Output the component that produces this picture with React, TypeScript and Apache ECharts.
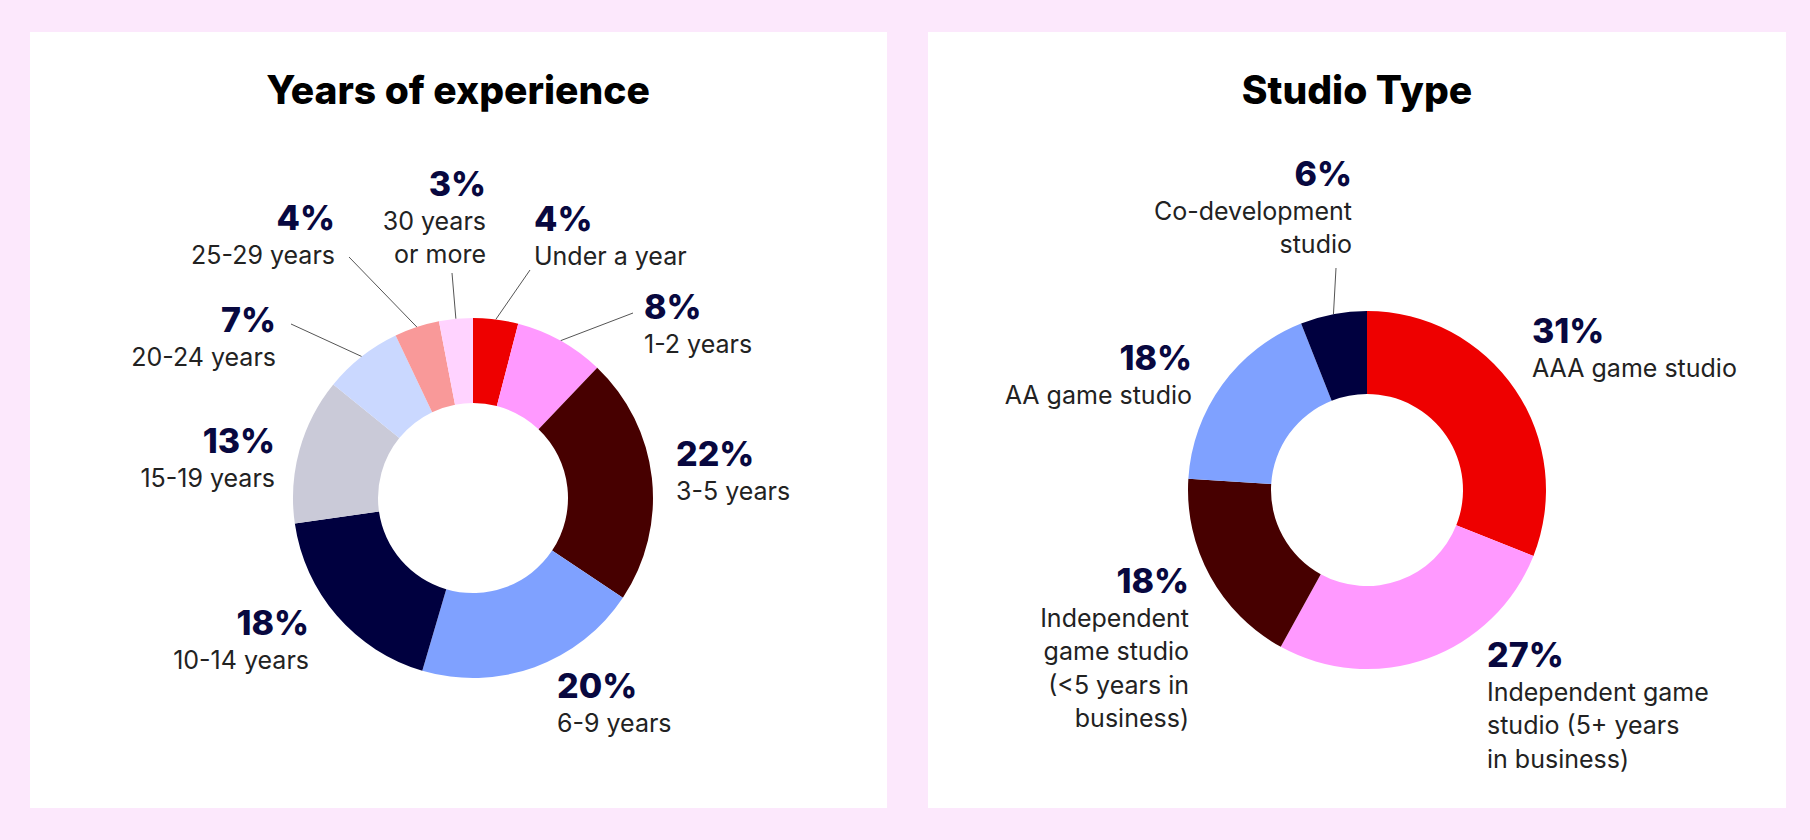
import React, { useEffect, useRef } from 'react';
import * as echarts from 'echarts';

// ---- data ----
const titles = ['Years of experience', 'Studio Type'];

const expCategories = [
  'Under a year',
  '1-2 years',
  '3-5 years',
  '6-9 years',
  '10-14 years',
  '15-19 years',
  '20-24 years',
  '25-29 years',
  '30 years\nor more',
];
const expValues = [4, 8, 22, 20, 18, 13, 7, 4, 3];

const studioCategories = [
  'AAA game studio',
  'Independent game\nstudio (5+ years\nin business)',
  'Independent\ngame studio\n(<5 years in\nbusiness)',
  'AA game studio',
  'Co-development\nstudio',
];
const studioValues = [31, 27, 18, 18, 6];

// ---- styles / layout ----
const expColors = ['#EE0000', '#FF99FF', '#470000', '#7FA1FF', '#00003F', '#CACAD8', '#CAD8FF', '#F99999', '#FFD3FF'];
const studioColors = ['#EE0000', '#FF99FF', '#470000', '#7FA1FF', '#00003F'];

const FONT = "Inter, 'Noto Sans', sans-serif";
const PIE_LEFT = { center: [473, 498], inner: 95, outer: 180 };
const PIE_RIGHT = { center: [1367, 490], inner: 96, outer: 179 };

// label placement relative to pie center: [dx, dyTop, align, lineEndDx, lineEndDy]
type Place = [number, number, string, number | null, number | null];
const expPlaces: Place[] = [
  [61, -292, 'left', 57, -228],
  [171, -204, 'left', 160, -185],
  [203, -57, 'left', null, null],
  [84, 175, 'left', null, null],
  [-164, 112, 'right', null, null],
  [-198, -70, 'right', null, null],
  [-197, -191, 'right', -182, -174],
  [-138, -293, 'right', -124, -241],
  [13, -327, 'right', -21, -225],
];
const studioPlaces: Place[] = [
  [165, -172, 'left', null, null],
  [120, 152, 'left', null, null],
  [-178, 78, 'right', null, null],
  [-175, -145, 'right', null, null],
  [-15, -329, 'right', -31, -222],
];

function makeLayout(values: number[], pie: any, places: Place[]) {
  const total = values.reduce((a, b) => a + b, 0);
  const mids: number[] = [];
  let s = 0;
  values.forEach((v) => {
    mids.push(s + v / 2);
    s += v;
  });
  return (params: any) => {
    const i = params.dataIndex;
    const pl = places[i];
    const [cx, cy] = pie.center;
    const res: any = { x: cx + pl[0], y: cy + pl[1] - 8, align: pl[2], verticalAlign: 'top' };
    if (pl[3] != null && pl[4] != null) {
      const a = (mids[i] / total) * Math.PI * 2;
      const sx = cx + pie.outer * Math.sin(a);
      const sy = cy - pie.outer * Math.cos(a);
      const ex = cx + pl[3];
      const ey = cy + pl[4];
      res.labelLinePoints = [[sx, sy], [ex, ey], [ex, ey]];
    }
    return res;
  };
}

function labelFormatter(p: any) {
  const lines = String(p.name).split('\n').map((l: string) => `{n|${l}}`).join('\n');
  return `{p|${p.value}%}\n${lines}`;
}

function buildSeries(cats: string[], vals: number[], colors: string[], pie: any, places: Place[]) {
  return {
    type: 'pie',
    center: pie.center,
    radius: [pie.inner, pie.outer],
    startAngle: 90,
    clockwise: true,
    avoidLabelOverlap: false,
    silent: true,
    itemStyle: { borderWidth: 0 },
    label: {
      show: true,
      position: 'outside',
      formatter: labelFormatter,
      rich: {
        p: { fontFamily: FONT, fontSize: 34, fontWeight: 800, color: '#08083F', lineHeight: 41 },
        n: { fontFamily: FONT, fontSize: 25, fontWeight: 400, color: '#222222', lineHeight: 33.5 },
      },
    },
    labelLine: { show: true, smooth: false, lineStyle: { color: '#555555', width: 1 } },
    labelLayout: makeLayout(vals, pie, places),
    data: cats.map((c, i) => ({
      name: c,
      value: vals[i],
      itemStyle: { color: colors[i] },
      labelLine: { show: places[i][3] != null },
    })),
  };
}

export default function App() {
  const ref = useRef<HTMLDivElement>(null);
  useEffect(() => {
    if (!ref.current) return;
    const chart = echarts.init(ref.current, null, { renderer: 'svg' });
    chart.setOption({
      animation: false,
      backgroundColor: '#FCE8FC',
      graphic: [
        { type: 'rect', z: -10, shape: { x: 30, y: 32, width: 857, height: 776 }, style: { fill: '#FFFFFF' } },
        { type: 'rect', z: -10, shape: { x: 928, y: 32, width: 858, height: 776 }, style: { fill: '#FFFFFF' } },
        {
          type: 'text',
          x: 458,
          y: 89,
          style: { text: titles[0], font: `800 39px ${FONT}`, fill: '#000000', textAlign: 'center', textVerticalAlign: 'middle' },
        },
        {
          type: 'text',
          x: 1357,
          y: 89,
          style: { text: titles[1], font: `800 39px ${FONT}`, fill: '#000000', textAlign: 'center', textVerticalAlign: 'middle' },
        },
      ],
      series: [
        buildSeries(expCategories, expValues, expColors, PIE_LEFT, expPlaces),
        buildSeries(studioCategories, studioValues, studioColors, PIE_RIGHT, studioPlaces),
      ],
    });
    return () => chart.dispose();
  }, []);
  return <div ref={ref} style={{ position: 'fixed', left: 0, top: 0, width: 1810, height: 840 }} />;
}
